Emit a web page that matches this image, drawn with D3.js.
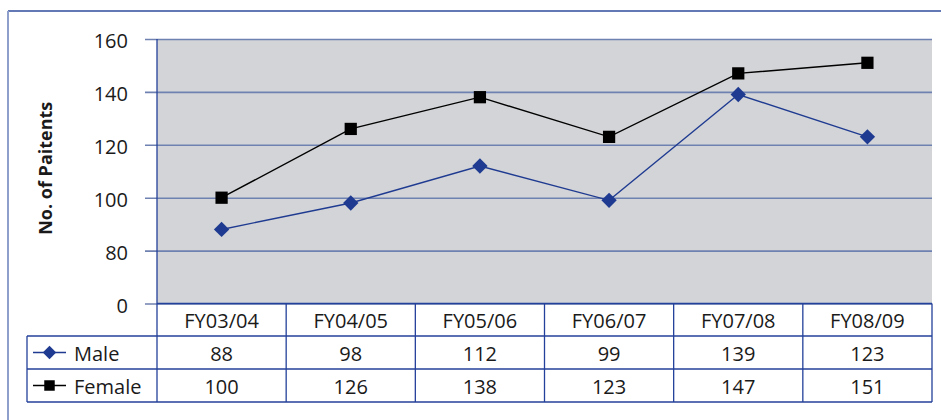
<!DOCTYPE html>
<html>
<head>
<meta charset="utf-8">
<script src="https://cdn.jsdelivr.net/npm/d3@7/dist/d3.min.js"></script>
<style>
  html, body { margin: 0; padding: 0; background: #ffffff; }
  svg { display: block; }
  text { font-family: "Open Sans", "Noto Sans", sans-serif; fill: #1a1a1a; }
</style>
</head>
<body>
<svg id="chart" width="941" height="420"></svg>
<script>
// Patients per financial year, by sex
const categories = ["FY03/04", "FY04/05", "FY05/06", "FY06/07", "FY07/08", "FY08/09"];
const maleValues = [88, 98, 112, 99, 139, 123];
const femaleValues = [100, 126, 138, 123, 147, 151];
const yTicks = [0, 80, 100, 120, 140, 160];
const yTitle = "No. of Paitents";

const series = [
  { name: "Male", values: maleValues, color: "#1f3b91", marker: "diamond" },
  { name: "Female", values: femaleValues, color: "#000000", marker: "square" }
];

const svg = d3.select("#chart");
const W = 941, H = 420;

// plot area
const plot = { left: 157, right: 932, top: 39, bottom: 303.5 };
// data table rows under the plot
const rows = { header: [303.5, 336], male: [336, 369], female: [369, 402] };
const legendLeft = 27;
const fontSize = "20px";

const navy = "#23409a";
const gridColor = "#6f81b1";

// outer frame
svg.append("line").attr("x1", 8).attr("x2", W).attr("y1", 11).attr("y2", 11)
  .attr("stroke", "#2f4d9d").attr("stroke-width", 1.5);
svg.append("line").attr("x1", 8).attr("x2", 8).attr("y1", 11).attr("y2", H)
  .attr("stroke", "#8e9fcb").attr("stroke-width", 2);

const x = d3.scaleBand().domain(categories).range([plot.left, plot.right]).paddingInner(0).paddingOuter(0);
// broken value axis: 0 sits one step below 80
const y = d3.scaleLinear().domain([0, 80, 160]).range([plot.bottom, plot.bottom - (plot.bottom - plot.top) / 5, plot.top]);

// plot background
svg.append("rect").attr("x", plot.left).attr("y", plot.top)
  .attr("width", plot.right - plot.left).attr("height", plot.bottom - plot.top)
  .attr("fill", "#d3d4d7");

// value axis with gridlines
const yAxis = d3.axisLeft(y).tickValues(yTicks).tickSize(0).tickFormat(d3.format("d"));
const gy = svg.append("g").attr("transform", `translate(${plot.left - 12},0)`).call(yAxis);
gy.select(".domain").remove();
gy.selectAll(".tick line")
  .attr("x1", 0).attr("x2", plot.right - plot.left + 12)
  .attr("stroke", gridColor).attr("stroke-width", 1.6);
gy.selectAll(".tick text")
  .attr("x", -17).attr("dy", null)
  .attr("y", 8.5)
  .style("font-family", "'Open Sans', sans-serif").style("font-size", fontSize).attr("fill", "#1a1a1a");

// left edge of plot
svg.append("line").attr("x1", plot.left).attr("x2", plot.left).attr("y1", plot.top).attr("y2", rows.female[1])
  .attr("stroke", navy).attr("stroke-width", 1.3);

// axis title
svg.append("text")
  .attr("transform", `translate(52,${(plot.top + plot.bottom) / 2 - 3}) rotate(-90)`)
  .attr("text-anchor", "middle")
  .style("font-size", "18px").style("font-weight", "bold")
  .text(yTitle);

// series lines and markers
const line = d3.line().x((d, i) => x(categories[i]) + x.bandwidth() / 2).y(d => y(d));
const sq = d3.symbol().type(d3.symbolSquare);

series.forEach(s => {
  svg.append("path").datum(s.values).attr("d", line)
    .attr("fill", "none").attr("stroke", s.color).attr("stroke-width", 1.4);
  svg.append("g").selectAll("path").data(s.values).join("path")
    .attr("d", s.marker === "diamond" ? sq.size(118)() : sq.size(150)())
    .attr("transform", (d, i) => `translate(${x(categories[i]) + x.bandwidth() / 2},${y(d)})` + (s.marker === "diamond" ? " rotate(45)" : ""))
    .attr("fill", s.color);
});

// data table
const tbl = svg.append("g");
const hline = (x1, x2, yy) => tbl.append("line").attr("x1", x1).attr("x2", x2).attr("y1", yy).attr("y2", yy)
  .attr("stroke", navy).attr("stroke-width", 1.3);
const vline = (xx, y1, y2) => tbl.append("line").attr("x1", xx).attr("x2", xx).attr("y1", y1).attr("y2", y2)
  .attr("stroke", navy).attr("stroke-width", 1.3);

hline(plot.left, plot.right, rows.header[0]);
hline(legendLeft, plot.right, rows.male[0]);
hline(legendLeft, plot.right, rows.female[0]);
hline(legendLeft, plot.right, rows.female[1]);
vline(legendLeft, rows.male[0], rows.female[1]);
categories.forEach(c => vline(x(c) + x.bandwidth(), rows.header[0], rows.female[1]));

const cellText = (xx, yy, t, anchor) => tbl.append("text")
  .attr("x", xx).attr("y", yy).attr("text-anchor", anchor || "middle")
  .style("font-size", fontSize).text(t);

categories.forEach(c => cellText(x(c) + x.bandwidth() / 2, (rows.header[0] + rows.header[1]) / 2 + 8.5, c));

[["male", series[0]], ["female", series[1]]].forEach(([key, s]) => {
  const r = rows[key];
  const cy = (r[0] + r[1]) / 2;
  s.values.forEach((v, i) => cellText(x(categories[i]) + x.bandwidth() / 2, cy + 8.5, String(v)));
  // legend key
  tbl.append("line").attr("x1", 33).attr("x2", 66).attr("y1", cy).attr("y2", cy)
    .attr("stroke", s.color).attr("stroke-width", 1.4);
  tbl.append("path")
    .attr("d", s.marker === "diamond" ? sq.size(90)() : sq.size(110)())
    .attr("transform", `translate(49.5,${cy})` + (s.marker === "diamond" ? " rotate(45)" : ""))
    .attr("fill", s.color);
  cellText(74, cy + 8.5, s.name, "start");
});
</script>
</body>
</html>
